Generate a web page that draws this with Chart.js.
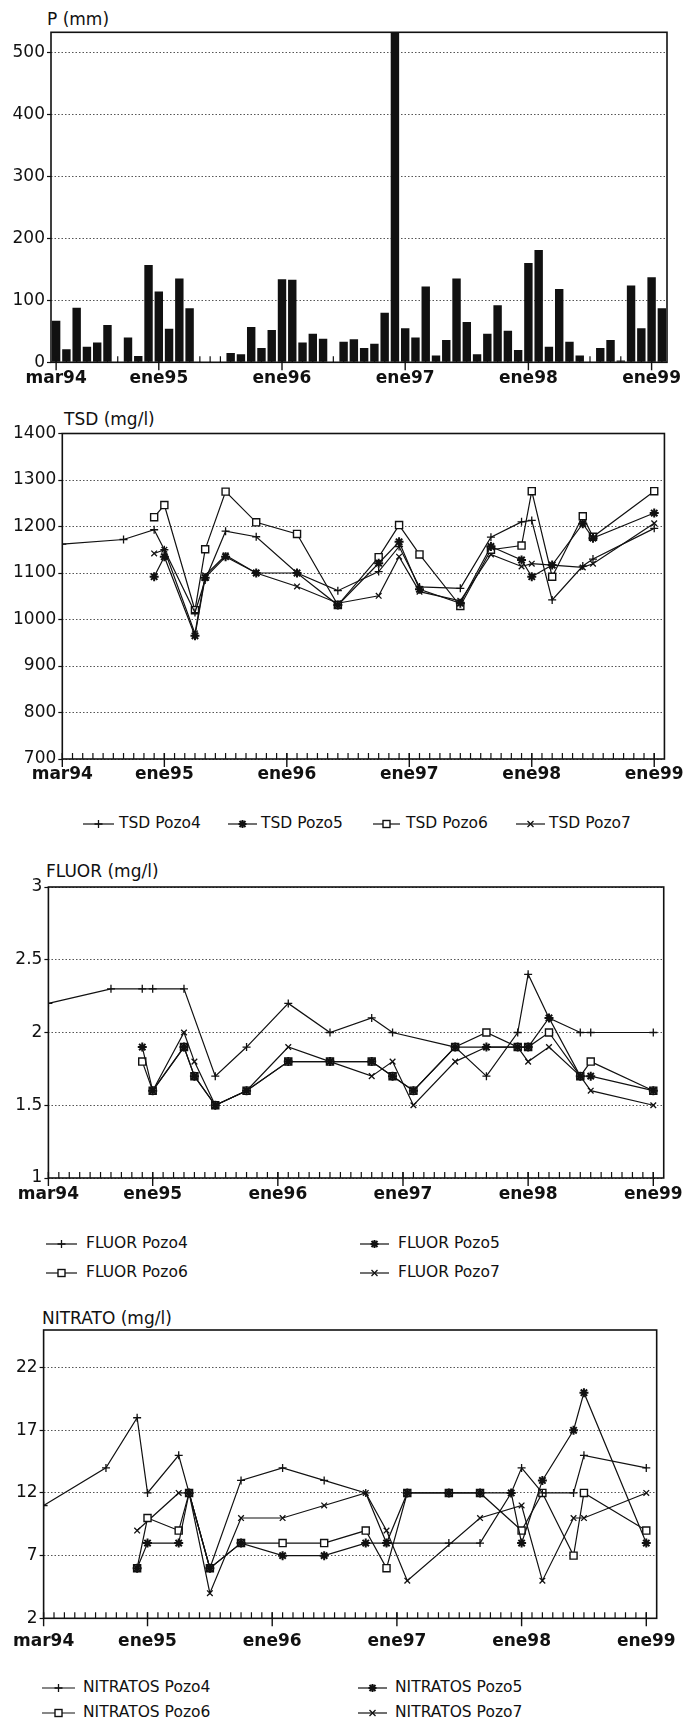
<!DOCTYPE html>
<html>
<head>
<meta charset="utf-8">
<script src="https://cdn.jsdelivr.net/npm/chart.js@4.4.0/dist/chart.umd.min.js"></script>
<style>
body { margin: 0; background: #fff; }
#page { position: relative; width: 689px; height: 1724px; font-family: "DejaVu Sans", sans-serif; color: #111; overflow: hidden; }
canvas { position: absolute; left: 0; }
.title { position: absolute; font-size: 17px; line-height: 17px; white-space: nowrap; }
.legtext { position: absolute; font-size: 15.5px; line-height: 16px; white-space: nowrap; }
.legsym { position: absolute; }
</style>
</head>
<body>
<div id="page">
  <div class="title" style="left:47px;top:11px">P (mm)</div>
  <canvas id="cP" width="689" height="400" style="top:0px"></canvas>

  <div class="title" style="left:64px;top:411px">TSD (mg/l)</div>
  <canvas id="cTSD" width="689" height="400" style="top:400px"></canvas>

  <div class="title" style="left:46px;top:863px">FLUOR (mg/l)</div>
  <canvas id="cF" width="689" height="360" style="top:850px"></canvas>

  <div class="title" style="left:42px;top:1310px">NITRATO (mg/l)</div>
  <canvas id="cN" width="689" height="380" style="top:1290px"></canvas>
</div>
<script>
// months on the time axis (mar94 .. feb99)
const monthNames = ['mar94','abr94','may94','jun94','jul94','ago94','sep94','oct94','nov94','dic94',
  'ene95','feb95','mar95','abr95','may95','jun95','jul95','ago95','sep95','oct95','nov95','dic95',
  'ene96','feb96','mar96','abr96','may96','jun96','jul96','ago96','sep96','oct96','nov96','dic96',
  'ene97','feb97','mar97','abr97','may97','jun97','jul97','ago97','sep97','oct97','nov97','dic97',
  'ene98','feb98','mar98','abr98','may98','jun98','jul98','ago98','sep98','oct98','nov98','dic98',
  'ene99','feb99'];
const tickLabels = ['mar94','ene95','ene96','ene97','ene98','ene99'];

// y tick values of each panel
const rainTicks = [0, 100, 200, 300, 400, 500];
const tsdTicks = [700, 800, 900, 1000, 1100, 1200, 1300, 1400];
const fluorTicks = [1, 1.5, 2, 2.5, 3];
const nitTicks = [2, 7, 12, 17, 22];

// monthly rainfall, mm
const rainfall = [67, 21, 88, 25, 32, 60, 0, 40, 10, 157,
  114, 54, 135, 87, 0, 0, 0, 15, 13, 57, 23, 52,
  134, 133, 32, 46, 38, 0, 33, 37, 23, 30, 80, 560,
  55, 40, 122, 11, 36, 135, 65, 13, 46, 92, 51, 20,
  160, 181, 25, 118, 33, 11, 0, 23, 36, 3, 124, 55,
  137, 87];

// sampling dates of the wells
const sampleDates = ['mar94','sep94','dic94','ene95','abr95','may95','jul95','oct95','feb96','jun96',
  'oct96','dic96','feb97','jun97','sep97','dic97','ene98','mar98','jun98','jul98','ene99'];

const tsdPozo4 = [1162, 1172, 1193, 1150, 1015, 1085, 1190, 1178, 1100, 1062, 1103, 1157, 1070, 1067, 1177, 1210, 1213, 1042, 1115, 1130, 1196];
const tsdPozo5 = [null, null, 1092, 1135, 965, 1090, 1135, 1100, 1100, 1031, 1121, 1167, 1065, 1035, 1157, 1128, 1092, 1117, 1206, 1175, 1229];
const tsdPozo6 = [null, null, 1220, 1246, 1020, 1151, 1275, 1209, 1184, 1031, 1134, 1203, 1140, 1029, 1150, 1159, 1276, 1092, 1222, 1178, 1276];
const tsdPozo7 = [null, null, 1142, 1150, 970, 1095, 1138, 1100, 1071, 1035, 1051, 1135, 1060, 1040, 1140, 1114, 1120, 1117, 1112, 1120, 1207];

const fluorPozo4 = [2.2, 2.3, 2.3, 2.3, 2.3, null, 1.7, 1.9, 2.2, 2.0, 2.1, 2.0, null, 1.9, 1.7, 2.0, 2.4, 2.1, 2.0, 2.0, 2.0];
const fluorPozo5 = [null, null, 1.9, 1.6, 1.9, 1.7, 1.5, 1.6, 1.8, 1.8, 1.8, 1.7, 1.6, 1.9, 1.9, 1.9, 1.9, 2.1, 1.7, 1.7, 1.6];
const fluorPozo6 = [null, null, 1.8, 1.6, 1.9, 1.7, 1.5, 1.6, 1.8, 1.8, 1.8, 1.7, 1.6, 1.9, 2.0, 1.9, 1.9, 2.0, 1.7, 1.8, 1.6];
const fluorPozo7 = [null, null, null, 1.6, 2.0, 1.8, 1.5, 1.6, 1.9, 1.8, 1.7, 1.8, 1.5, 1.8, 1.9, 1.9, 1.8, 1.9, 1.7, 1.6, 1.5];

const nitPozo4 = [11, 14, 18, 12, 15, 12, 6, 13, 14, 13, 12, 8, null, 8, 8, 12, 14, 12, 12, 15, 14];
const nitPozo5 = [null, null, 6, 8, 8, 12, 6, 8, 7, 7, 8, 8, 12, 12, 12, 12, 8, 13, 17, 20, 8];
const nitPozo6 = [null, null, 6, 10, 9, 12, 6, 8, 8, 8, 9, 6, 12, 12, 12, null, 9, 12, 7, 12, 9];
const nitPozo7 = [null, null, 9, null, 12, 12, 4, 10, 10, 11, 12, 9, 5, null, 10, null, 11, 5, 10, 10, 12];

Chart.defaults.font.family = '"DejaVu Sans", sans-serif';
Chart.defaults.color = '#111';

const marks = {
  pozo4: {pointStyle: 'cross', radius: 4, width: 1.3, fill: '#111'},
  pozo5: {pointStyle: 'star', radius: 4.5, width: 2, fill: '#111'},
  pozo6: {pointStyle: 'rect', radius: 5, width: 1.4, fill: '#fff'},
  pozo7: {pointStyle: 'crossRot', radius: 4, width: 1.3, fill: '#111'}
};

// frame, monthly inner ticks and yearly outer ticks
const frameTicks = {
  id: 'frameTicks',
  beforeDatasetsDraw(chart) {
    const a = chart.chartArea, x = chart.scales.x, ctx = chart.ctx;
    ctx.save();
    ctx.strokeStyle = '#111';
    ctx.lineWidth = 1.2;
    ctx.beginPath();
    monthNames.forEach((m, i) => {
      const px = x.getPixelForValue(i);
      if (px < a.left + 1 || px > a.right - 1) return;
      ctx.moveTo(px, a.bottom);
      ctx.lineTo(px, a.bottom - 6);
    });
    ctx.stroke();
    ctx.restore();
  },
  afterDraw(chart) {
    const a = chart.chartArea, x = chart.scales.x, ctx = chart.ctx;
    ctx.save();
    ctx.strokeStyle = '#111';
    ctx.lineWidth = 1.6;
    ctx.strokeRect(a.left, a.top, a.right - a.left, a.bottom - a.top);
    ctx.lineWidth = 1.4;
    ctx.beginPath();
    tickLabels.forEach(t => {
      const px = x.getPixelForValue(monthNames.indexOf(t));
      ctx.moveTo(px, a.bottom - 6);
      ctx.lineTo(px, a.bottom + 8);
    });
    ctx.stroke();
    ctx.restore();
  }
};

function yAxis(min, max, tickValues, width) {
  return {
    min: min, max: max,
    afterBuildTicks: s => { s.ticks = tickValues.map(v => ({value: v})); },
    ticks: {padding: 2, font: {size: 17}, callback: v => String(v)},
    grid: {color: '#555', lineWidth: 1, tickLength: 4, tickColor: '#111', tickWidth: 1.2},
    border: {display: false, dash: [1.5, 2]},
    afterFit: s => { s.width = width; }
  };
}

// rainfall bars
new Chart(document.getElementById('cP'), {
  type: 'bar',
  data: {
    labels: monthNames,
    datasets: [{
      data: rainfall,
      backgroundColor: '#111',
      barPercentage: 0.82,
      categoryPercentage: 1
    }]
  },
  options: {
    responsive: false,
    animation: false,
    layout: {autoPadding: false, padding: {left: 0, right: 22, top: 32.3, bottom: 7.7}},
    plugins: {legend: {display: false}, tooltip: {enabled: false}},
    scales: {
      x: {
        ticks: {autoSkip: false, maxRotation: 0, padding: 6, font: {size: 17, weight: 'bold'},
          callback: (v, i) => tickLabels.includes(monthNames[i]) ? monthNames[i] : ''},
        grid: {display: false, drawTicks: false},
        border: {display: false},
        afterFit: s => { s.height = 30; }
      },
      y: yAxis(0, 532, rainTicks, 51)
    }
  },
  plugins: [frameTicks]
});

function points(values) {
  return sampleDates.map((d, i) => ({x: monthNames.indexOf(d), y: values[i]}));
}

function wellSet(label, values, m) {
  return {
    label: label,
    data: points(values),
    borderColor: '#111',
    borderWidth: 1.2,
    pointStyle: m.pointStyle,
    pointRadius: m.radius,
    pointBorderWidth: m.width,
    pointBorderColor: '#111',
    pointBackgroundColor: m.fill,
    spanGaps: true,
    tension: 0
  };
}

function wellChart(id, sets, y, pad, xPad, xHeight) {
  new Chart(document.getElementById(id), {
    type: 'line',
    data: {datasets: sets},
    options: {
      responsive: false,
      animation: false,
      layout: {autoPadding: false, padding: pad},
      plugins: {legend: {display: false}, tooltip: {enabled: false}},
      scales: {
        x: {
          type: 'linear', min: 0, max: 59,
          afterBuildTicks: s => { s.ticks = tickLabels.map(t => ({value: monthNames.indexOf(t)})); },
          ticks: {autoSkip: false, maxRotation: 0, padding: xPad, font: {size: 17, weight: 'bold'},
            callback: v => monthNames[v]},
          grid: {display: false, drawTicks: false},
          border: {display: false},
          afterFit: s => { s.height = xHeight; }
        },
        y: y
      }
    },
    plugins: [frameTicks]
  });
}

wellChart('cTSD', [
  wellSet('TSD Pozo4', tsdPozo4, marks.pozo4),
  wellSet('TSD Pozo5', tsdPozo5, marks.pozo5),
  wellSet('TSD Pozo6', tsdPozo6, marks.pozo6),
  wellSet('TSD Pozo7', tsdPozo7, marks.pozo7)
], yAxis(700, 1400, tsdTicks, 62.3), {left: 0, right: 21.7, top: 33.5, bottom: 6}, 5, 35);

wellChart('cF', [
  wellSet('FLUOR Pozo4', fluorPozo4, marks.pozo4),
  wellSet('FLUOR Pozo5', fluorPozo5, marks.pozo5),
  wellSet('FLUOR Pozo6', fluorPozo6, marks.pozo6),
  wellSet('FLUOR Pozo7', fluorPozo7, marks.pozo7)
], yAxis(1, 3, fluorTicks, 48.4), {left: 0, right: 17.5, top: 37, bottom: 2}, 6, 30);

wellChart('cN', [
  wellSet('NITRATOS Pozo4', nitPozo4, marks.pozo4),
  wellSet('NITRATOS Pozo5', nitPozo5, marks.pozo5),
  wellSet('NITRATOS Pozo6', nitPozo6, marks.pozo6),
  wellSet('NITRATOS Pozo7', nitPozo7, marks.pozo7)
], yAxis(2, 25, nitTicks, 42.5), {left: 0, right: 19, top: 40, bottom: 11.7}, 13, 40);

// legends: line with marker + text
function symbol(m, w) {
  const c = w / 2, r = 4;
  let mk = '';
  if (m.pointStyle === 'cross') mk = `<path d="M${c - r} 7H${c + r}M${c} ${7 - r}V${7 + r}" stroke="#111" stroke-width="1.3"/>`;
  if (m.pointStyle === 'crossRot') mk = `<path d="M${c - 3} 4L${c + 3} 10M${c - 3} 10L${c + 3} 4" stroke="#111" stroke-width="1.3"/>`;
  if (m.pointStyle === 'star') mk = `<path d="M${c - r} 7H${c + r}M${c} ${7 - r}V${7 + r}M${c - 3} 4L${c + 3} 10M${c - 3} 10L${c + 3} 4" stroke="#111" stroke-width="2"/>`;
  if (m.pointStyle === 'rect') mk = `<rect x="${c - 3.5}" y="3.5" width="7" height="7" fill="#fff" stroke="#111" stroke-width="1.4"/>`;
  return `<svg width="${w}" height="14"><path d="M0 7H${w}" stroke="#111" stroke-width="1.2"/>${mk}</svg>`;
}

function legendItem(text, m, y, x0, x1, tx) {
  const page = document.getElementById('page');
  const s = document.createElement('div');
  s.className = 'legsym';
  s.style.left = x0 + 'px';
  s.style.top = (y - 7) + 'px';
  s.innerHTML = symbol(m, x1 - x0);
  page.appendChild(s);
  const t = document.createElement('div');
  t.className = 'legtext';
  t.style.left = tx + 'px';
  t.style.top = (y - 7.7) + 'px';
  t.textContent = text;
  page.appendChild(t);
}

legendItem('TSD Pozo4', marks.pozo4, 823, 83, 114, 119);
legendItem('TSD Pozo5', marks.pozo5, 823, 228, 257, 261);
legendItem('TSD Pozo6', marks.pozo6, 823, 373, 400, 406);
legendItem('TSD Pozo7', marks.pozo7, 823, 516, 545, 549);

legendItem('FLUOR Pozo4', marks.pozo4, 1243, 46, 77, 86);
legendItem('FLUOR Pozo5', marks.pozo5, 1243, 360, 389, 398);
legendItem('FLUOR Pozo6', marks.pozo6, 1272, 46, 77, 86);
legendItem('FLUOR Pozo7', marks.pozo7, 1272, 360, 389, 398);

legendItem('NITRATOS Pozo4', marks.pozo4, 1687, 42, 75, 83);
legendItem('NITRATOS Pozo5', marks.pozo5, 1687, 358, 387, 395);
legendItem('NITRATOS Pozo6', marks.pozo6, 1712, 42, 75, 83);
legendItem('NITRATOS Pozo7', marks.pozo7, 1712, 358, 387, 395);
</script>
</body>
</html>
